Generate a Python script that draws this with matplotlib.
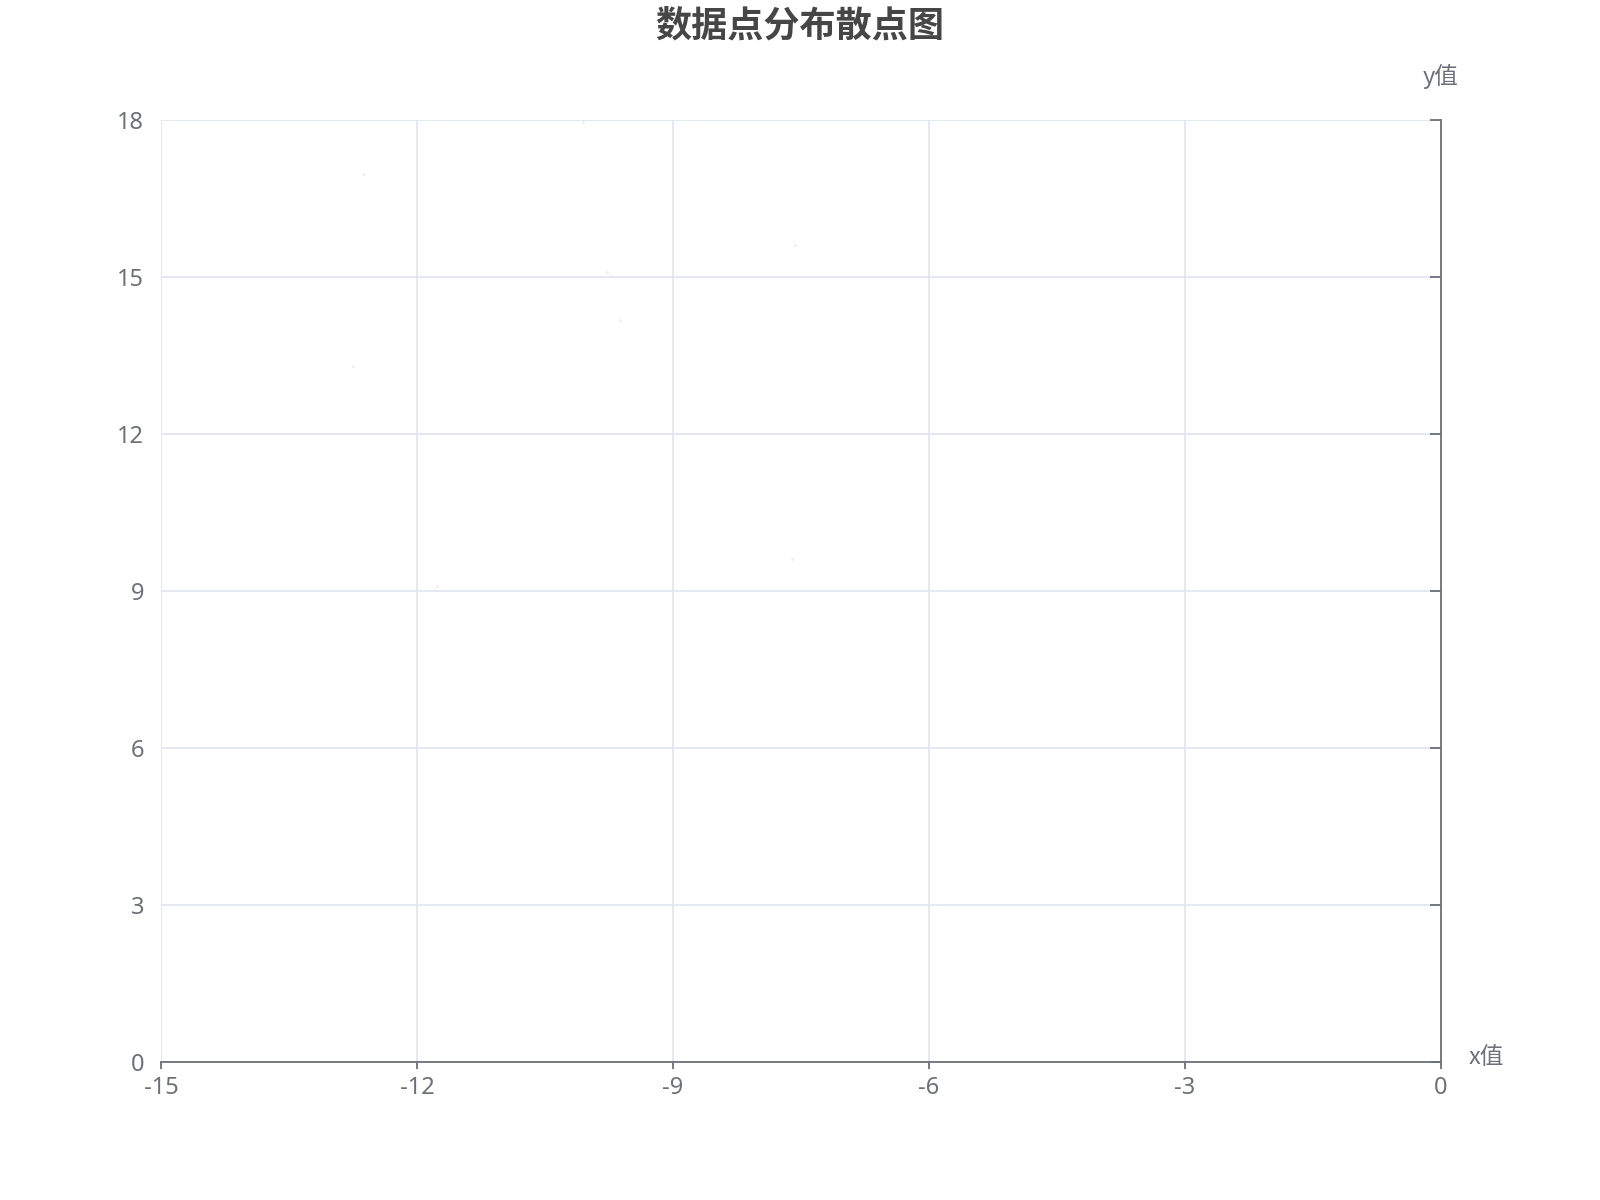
import matplotlib
matplotlib.use("Agg")
import matplotlib.pyplot as plt

plt.rcParams['font.family'] = ['Noto Sans', 'Noto Sans CJK SC', 'DejaVu Sans']

# Data (the points are drawn almost invisibly light)
x_vals = [-12.63, -12.75, -10.05, -7.57, -9.77, -9.62, -11.76, -7.60]
y_vals = [16.96, 13.29, 17.97, 15.62, 15.09, 14.17, 9.10, 9.62]
x_ticks = [-15, -12, -9, -6, -3, 0]
y_ticks = [0, 3, 6, 9, 12, 15, 18]
title = "数据点分布散点图"
x_name = "x值"
y_name = "y值"

axis_color = "#6E7079"
grid_color = "#E0E6F1"
cjk = ['Noto Sans CJK SC', 'DejaVu Sans']

fig = plt.figure(figsize=(16, 12), dpi=100)
ax = fig.add_axes([0.1006, 0.115, 0.8, 0.785])

ax.scatter(x_vals, y_vals, s=4, color="#e9ecf3", linewidths=0, zorder=3)

ax.set_xlim(-15, 0)
ax.set_ylim(0, 18)
ax.set_xticks(x_ticks)
ax.set_yticks(y_ticks)
ax.set_xticklabels([str(v) for v in x_ticks])
ax.set_yticklabels([str(v) for v in y_ticks])

ax.grid(True, color=grid_color, linewidth=1.3, zorder=0)
ax.set_axisbelow(True)

for s in ['left', 'top']:
    ax.spines[s].set_visible(False)
for s in ['bottom', 'right']:
    ax.spines[s].set_color(axis_color)
    ax.spines[s].set_linewidth(1.3)
    ax.spines[s].set_zorder(4)

ax.tick_params(axis='x', direction='out', length=5, width=1.3, color=axis_color,
               labelcolor=axis_color, labelsize=17, pad=5)
ax.tick_params(axis='y', left=False, right=True, labelleft=True, labelright=False,
               direction='in', length=8, width=1.3, color=axis_color,
               labelcolor=axis_color, labelsize=17, pad=12)

fig.text(0.5, 1 - 26 / 1200, title, ha='center', va='center', fontsize=26,
         fontweight='bold', color='#464646', family=cjk)

# axis names
ax.annotate(y_name, xy=(1, 1), xycoords='axes fraction', xytext=(0, 31),
            textcoords='offset points', ha='center', va='center',
            fontsize=17, color=axis_color, family=cjk)
ax.annotate(x_name, xy=(1, 0), xycoords='axes fraction', xytext=(20, 3),
            textcoords='offset points', ha='left', va='center',
            fontsize=17, color=axis_color, family=cjk)

fig.savefig("out.png", dpi=100, facecolor='white')
